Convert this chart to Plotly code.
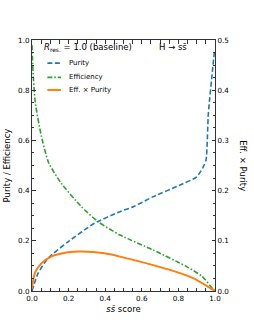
import plotly.graph_objects as go

# Efficiency (left axis)
eff_x = [0.0, 0.005, 0.018, 0.051, 0.091, 0.160, 0.270, 0.361, 0.481, 0.663, 0.845, 0.93, 0.991, 1.0]
eff_y = [0.98, 0.883, 0.750, 0.618, 0.511, 0.429, 0.336, 0.276, 0.223, 0.163, 0.097, 0.058, 0.006, 0.0]

# Purity (left axis)
pur_x = [0.0, 0.033, 0.087, 0.197, 0.342, 0.481, 0.554, 0.663, 0.809, 0.900, 0.936, 0.951, 0.964, 0.987, 0.996]
pur_y = [0.0, 0.07, 0.130, 0.196, 0.270, 0.316, 0.336, 0.376, 0.422, 0.455, 0.495, 0.522, 0.71, 0.883, 0.95]

# Eff. x Purity (right axis)
ep_x = [0.0, 0.015, 0.051, 0.105, 0.197, 0.270, 0.397, 0.481, 0.627, 0.754, 0.881, 0.991, 1.0]
ep_y = [0.005, 0.035, 0.055, 0.0685, 0.077, 0.0785, 0.075, 0.0685, 0.055, 0.042, 0.0255, 0.002, 0.0]

x_ticks = [0.0, 0.2, 0.4, 0.6, 0.8, 1.0]
y_ticks = [0.0, 0.2, 0.4, 0.6, 0.8, 1.0]
y2_ticks = [0.0, 0.1, 0.2, 0.3, 0.4, 0.5]

series_names = ["Purity", "Efficiency", "Eff. × Purity"]
series_colors = ["#1f77b4", "#2ca02c", "#ff7f0e"]
series_dash = ["5px,2.5px", "5px,2px,1.5px,2px", "solid"]
series_width = [1.6, 1.6, 2]

FONT = "DejaVu Sans"
AX = "#333333"

fig = go.Figure()
fig.add_trace(go.Scatter(x=pur_x, y=pur_y, mode="lines", name=series_names[0], showlegend=False,
                         line=dict(color=series_colors[0], width=series_width[0], dash=series_dash[0],
                                   shape="spline", smoothing=0.6)))
fig.add_trace(go.Scatter(x=eff_x, y=eff_y, mode="lines", name=series_names[1], showlegend=False,
                         line=dict(color=series_colors[1], width=series_width[1], dash=series_dash[1],
                                   shape="spline", smoothing=0.6)))
fig.add_trace(go.Scatter(x=ep_x, y=ep_y, mode="lines", name=series_names[2], yaxis="y2", showlegend=False,
                         line=dict(color=series_colors[2], width=series_width[2], dash=series_dash[2],
                                   shape="spline", smoothing=0.6)))

tickfont = dict(family=FONT, size=7.2, color="black")
common = dict(showline=True, linecolor=AX, linewidth=1, ticks="inside", ticklen=3.5,
              tickcolor=AX, tickwidth=1, showgrid=False, zeroline=False, tickfont=tickfont,
              automargin=False)

fig.update_layout(
    width=254, height=327,
    margin=dict(l=32, r=39, t=40, b=36),
    paper_bgcolor="white", plot_bgcolor="white",
    font=dict(family=FONT, size=7.5, color="black"),
    xaxis=dict(range=[0, 1], tickvals=x_ticks, ticktext=[f"{v:.1f}" for v in x_ticks],
               mirror="allticks",
               minor=dict(ticks="inside", dtick=0.05, ticklen=2, tickcolor=AX),
               title=dict(text="<i>ss̄</i> score", font=dict(family=FONT, size=8.5), standoff=4),
               **common),
    yaxis=dict(range=[0, 1], tickvals=y_ticks, ticktext=[f"{v:.1f}" for v in y_ticks],
               mirror=True,
               minor=dict(ticks="inside", dtick=0.05, ticklen=2, tickcolor=AX),
               title=dict(text="Purity / Efficiency", font=dict(family=FONT, size=8.5), standoff=6),
               **common),
    yaxis2=dict(range=[0, 0.5], overlaying="y", side="right",
                tickvals=y2_ticks, ticktext=[f"{v:.1f}" for v in y2_ticks],
                minor=dict(ticks="inside", dtick=0.025, ticklen=2, tickcolor=AX),
                **common),
    showlegend=False,
)

# hand-drawn legend (compact, like the reference)
leg_y = [0.908, 0.851, 0.801]
for name, col, dash, w, yy in zip(series_names, series_colors, series_dash, series_width, leg_y):
    fig.add_shape(type="line", xref="paper", yref="paper", x0=0.084, x1=0.158, y0=yy, y1=yy,
                  line=dict(color=col, width=w, dash=dash))
    fig.add_annotation(x=0.193, y=yy, xref="paper", yref="paper", xanchor="left", yanchor="middle",
                       text=name, showarrow=False, font=dict(family=FONT, size=7))

fig.add_annotation(x=0.056, y=0.972, xref="paper", yref="paper", xanchor="left", yanchor="middle",
                   text="<i>R</i><sub>res.</sub> = 1.0 (baseline)", showarrow=False,
                   font=dict(family=FONT, size=8.5))
fig.add_annotation(x=0.858, y=0.972, xref="paper", yref="paper", xanchor="right", yanchor="middle",
                   text="H → ss̄", showarrow=False, font=dict(family=FONT, size=8.5))
fig.add_annotation(x=1.155, y=0.5, xref="paper", yref="paper", xanchor="center", yanchor="middle",
                   text="Eff. × Purity", textangle=90, showarrow=False,
                   font=dict(family=FONT, size=8.5))

fig.write_html("out.html", config={"displayModeBar": False},
               post_script="document.body.style.margin='0';")
